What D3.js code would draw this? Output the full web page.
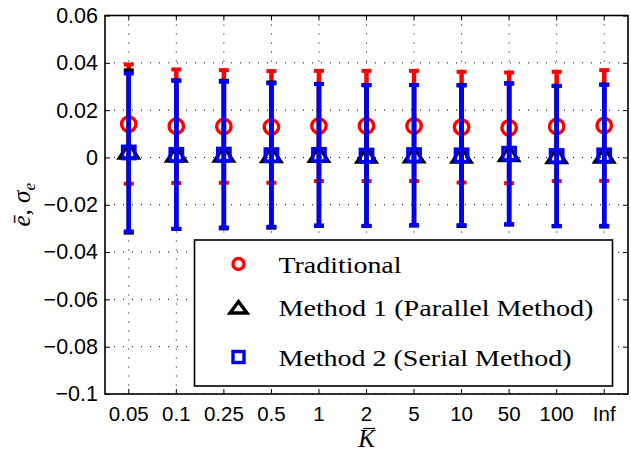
<!DOCTYPE html>
<html>
<head>
<meta charset="utf-8">
<script src="https://cdn.jsdelivr.net/npm/d3@7/dist/d3.min.js"></script>
<style>
  html, body { margin: 0; padding: 0; background: #fff; }
  svg { display: block; }
  .sans { font-family: "Liberation Sans", Arial, sans-serif; }
  .serif { font-family: "Liberation Serif", "Times New Roman", serif; }
</style>
</head>
<body>
<svg id="chart" width="631" height="452"></svg>
<script>
// Categories of K-bar along the x axis
const categories = ["0.05", "0.1", "0.25", "0.5", "1", "2", "5", "10", "50", "100", "Inf"];

// Mean error and standard deviation for each method
const traditionalMean = [0.0141, 0.0132, 0.0131, 0.0129, 0.0133, 0.0133, 0.0133, 0.0128, 0.0125, 0.0131, 0.0135];
const traditionalStd  = [0.0252, 0.0240, 0.0238, 0.0236, 0.0233, 0.0233, 0.0233, 0.0234, 0.0234, 0.0231, 0.0234];

const method1Mean = [0.0025, 0.0012, 0.0012, 0.0010, 0.0011, 0.0008, 0.0009, 0.0008, 0.0014, 0.0006, 0.0008];
const method1Std  = [0.0343, 0.0314, 0.0312, 0.0307, 0.0300, 0.0298, 0.0297, 0.0298, 0.0298, 0.0297, 0.0300];

const method2Mean = [0.0021, 0.0011, 0.0012, 0.0010, 0.0011, 0.0008, 0.0010, 0.0009, 0.0016, 0.0006, 0.0009];
const method2Std  = [0.0334, 0.0313, 0.0308, 0.0303, 0.0299, 0.0297, 0.0296, 0.0295, 0.0298, 0.0296, 0.0298];

const yTicks = [0.06, 0.04, 0.02, 0, -0.02, -0.04, -0.06, -0.08, -0.1];
const legendLabels = ["Traditional", "Method 1 (Parallel Method)", "Method 2 (Serial Method)"];

const W = 631, H = 452;
const margin = { top: 15.5, right: 3, bottom: 58, left: 105 };
const innerW = W - margin.left - margin.right;
const innerH = H - margin.top - margin.bottom;

const svg = d3.select("#chart");
const g = svg.append("g").attr("transform", `translate(${margin.left},${margin.top})`);

const x = d3.scaleBand().domain(categories).range([0, innerW]).padding(0);
const cx = c => x(c) + x.bandwidth() / 2;
const y = d3.scaleLinear().domain([-0.1, 0.06]).range([innerH, 0]);

const fmt = v => (v === 0 ? "0" : String(+v.toFixed(2)).replace("-", "\u2212"));

// Dotted grid
const grid = g.append("g").attr("class", "grid");
grid.selectAll("line.h").data(yTicks).join("line")
  .attr("class", "h")
  .attr("x1", 0).attr("x2", innerW)
  .attr("y1", d => y(d)).attr("y2", d => y(d))
  .attr("stroke", "#000").attr("stroke-width", 1)
  .attr("stroke-dasharray", "1,8");
grid.selectAll("line.v").data(categories).join("line")
  .attr("class", "v")
  .attr("x1", d => cx(d)).attr("x2", d => cx(d))
  .attr("y1", 0).attr("y2", innerH)
  .attr("stroke", "#000").attr("stroke-width", 1)
  .attr("stroke-dasharray", "1,8");

// Error bars and markers, drawn in series order
const series = [
  { mean: traditionalMean, std: traditionalStd, color: "#ff0000", marker: "circle" },
  { mean: method1Mean, std: method1Std, color: "#000000", marker: "triangle" },
  { mean: method2Mean, std: method2Std, color: "#0000ff", marker: "square" }
];
const capW = 10, lw = 4.5, capLw = 4;

function drawMarker(sel, type, color) {
  if (type === "circle") {
    sel.append("circle").attr("r", 7.2).attr("fill", "none")
      .attr("stroke", color).attr("stroke-width", 3.4);
  } else if (type === "triangle") {
    sel.append("path").attr("d", "M0,-8 L9.5,6.5 L-9.5,6.5 Z").attr("fill", "none")
      .attr("stroke", color).attr("stroke-width", 3.4).attr("stroke-linejoin", "miter");
  } else {
    sel.append("rect").attr("x", -6.2).attr("y", -6.2).attr("width", 12.4).attr("height", 12.4)
      .attr("fill", "none").attr("stroke", color).attr("stroke-width", 3.4);
  }
}

series.forEach(s => {
  const sg = g.append("g");
  categories.forEach((c, i) => {
    const px = cx(c);
    const top = y(s.mean[i] + s.std[i]);
    const bot = y(s.mean[i] - s.std[i]);
    sg.append("line").attr("x1", px).attr("x2", px).attr("y1", top).attr("y2", bot)
      .attr("stroke", s.color).attr("stroke-width", lw);
    [top, bot].forEach(yy => {
      sg.append("line").attr("x1", px - capW / 2).attr("x2", px + capW / 2)
        .attr("y1", yy).attr("y2", yy)
        .attr("stroke", s.color).attr("stroke-width", capLw);
    });
    const m = sg.append("g").attr("transform", `translate(${px},${y(s.mean[i])})`);
    drawMarker(m, s.marker, s.color);
  });
});

// Axes with inward ticks on all four sides
const axL = g.append("g").call(d3.axisLeft(y).tickValues(yTicks).tickSize(-5).tickPadding(7).tickFormat(fmt));
const axR = g.append("g").attr("transform", `translate(${innerW},0)`)
  .call(d3.axisRight(y).tickValues(yTicks).tickSize(-5).tickFormat(""));
const axB = g.append("g").attr("transform", `translate(0,${innerH})`)
  .call(d3.axisBottom(x).tickSize(-5).tickPadding(12));
const axT = g.append("g").call(d3.axisTop(x).tickSize(-5).tickFormat(""));
[axL, axR, axB, axT].forEach(a => {
  a.attr("font-family", null).attr("font-size", null);
  a.select(".domain").remove();
  a.selectAll(".tick line").attr("stroke", "#000").attr("stroke-width", 1);
  a.selectAll("text").attr("class", "sans").attr("font-size", 20.5).attr("fill", "#000");
});
axL.selectAll("text").attr("font-size", 21.5);
axB.selectAll("text").attr("dy", "0.71em");

// Axes box
g.append("rect").attr("x", 0).attr("y", 0).attr("width", innerW).attr("height", innerH)
  .attr("fill", "none").attr("stroke", "#000").attr("stroke-width", 1.6);

// Legend
const lg = g.append("g").attr("transform", `translate(${194.5 - margin.left},${240 - margin.top})`);
lg.append("rect").attr("x", 0).attr("y", 0).attr("width", 418).attr("height", 146)
  .attr("fill", "#fff").attr("stroke", "#000").attr("stroke-width", 1.6);
const legendRows = [24, 67, 117];
const legendWidths = [123, 315, 293];
series.forEach((s, i) => {
  const row = lg.append("g").attr("transform", `translate(0,${legendRows[i]})`);
  const m = row.append("g").attr("transform", `translate(44,0)`);
  if (s.marker === "circle") {
    m.append("circle").attr("r", 5.5).attr("fill", "none").attr("stroke", s.color).attr("stroke-width", 3.4);
  } else if (s.marker === "triangle") {
    m.append("path").attr("d", "M0,-5.5 L8.5,6 L-8.5,6 Z").attr("fill", "none")
      .attr("stroke", s.color).attr("stroke-width", 3.4);
  } else {
    m.append("rect").attr("x", -5.5).attr("y", -5.5).attr("width", 11).attr("height", 11)
      .attr("fill", "none").attr("stroke", s.color).attr("stroke-width", 3.4);
  }
  row.append("text").attr("class", "serif").attr("x", 84).attr("y", 8.5)
    .attr("font-size", 23).attr("fill", "#000")
    .attr("textLength", legendWidths[i]).attr("lengthAdjust", "spacingAndGlyphs")
    .text(legendLabels[i]);
});

// Y axis label: e-bar, sigma_e
const yl = svg.append("text").attr("class", "serif")
  .attr("transform", `translate(30,${margin.top + innerH / 2}) rotate(-90)`)
  .attr("text-anchor", "middle")
  .attr("font-style", "italic").attr("font-size", 25).attr("fill", "#000");
yl.append("tspan").text("\u0113");
yl.append("tspan").attr("font-style", "normal").text(", ");
yl.append("tspan").text("\u03c3");
yl.append("tspan").attr("font-size", 17).attr("dy", 5).text("e");

// X axis label: K-bar
const xl = svg.append("text").attr("class", "serif")
  .attr("x", margin.left + innerW / 2).attr("y", 447)
  .attr("text-anchor", "middle")
  .attr("font-style", "italic").attr("font-size", 25).attr("fill", "#000")
  .text("K");
const kb = xl.node().getBBox();
svg.append("line")
  .attr("x1", kb.x + 6).attr("x2", kb.x + kb.width - 1)
  .attr("y1", kb.y + 3.5).attr("y2", kb.y + 3.5)
  .attr("stroke", "#000").attr("stroke-width", 1.2);
</script>
</body>
</html>
